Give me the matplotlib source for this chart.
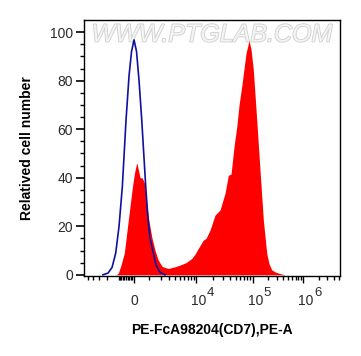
import numpy as np
import matplotlib
matplotlib.use("Agg")
import matplotlib.pyplot as plt
import matplotlib.patheffects as pe
from matplotlib.transforms import ScaledTranslation

plt.rcParams['font.family'] = ['Liberation Sans', 'DejaVu Sans']

# ---- data (fluorescence intensity, relative cell number) ----
blue_x = [-2492, -1927, -1541, -1227, -974, -740, -495, -306, -152, 0,
          152, 306, 476, 740, 900, 1048, 1311, 1541, 1927, 2492]
blue_y = [0, 0.7, 3, 9, 20, 36.3, 63.8, 82, 92, 96.8,
          92, 80, 63.8, 36.3, 23, 15, 9, 4, 1, 0]

red_x = [-1201, -1025, -831, -606, -349, -103, 30, 164, 275, 368, 495, 645,
         809, 974, 1180, 1453, 1754, 2134, 2492, 2917, 3972, 4969, 6474,
         8293, 9571, 10981, 13474, 15035, 17680, 21680, 26570, 32530, 37190,
         41520, 46860, 52330, 57420, 64040, 70290, 76180, 86100, 93330,
         102800, 120000, 139400, 162000, 189200, 210200, 237500, 288900,
         346500, 435000]
red_y = [0, 0.7, 4, 9, 22.6, 36, 42, 46.2, 43, 40, 40, 38,
         29, 22, 15.6, 10, 6, 3.5, 3, 2.6, 3.3, 4, 5,
         6.7, 8.5, 10.9, 14.3, 15, 18.4, 24.6, 26.7, 33.6, 41,
         41.5, 52.8, 61, 70, 77.6, 85, 91.3, 96.5, 93,
         84.4, 63.8, 43, 22.6, 8.8, 4.5, 2, 1,
         0.5, 0]

x_major = [0, 1e4, 1e5, 1e6]
x_major_labels = ['0', '10', '10', '10']
x_exponents = ['', '4', '5', '6']
y_major = [0, 20, 40, 60, 80, 100]

# ---- biexponential-like axis transform ----
C = 1420.0
U_K = np.array([-5.0, 0.0, 2.650, 4.948, 7.250, 12.0])
P_K = np.array([17.0, 134.0, 196.0, 252.7, 303.3, 407.7])


def fwd(x):
    x = np.asarray(x, dtype=float)
    return np.interp(np.arcsinh(x / C), U_K, P_K)


def inv(p):
    p = np.asarray(p, dtype=float)
    return C * np.sinh(np.interp(p, P_K, U_K))


fig = plt.figure(figsize=(3.61, 3.56), dpi=100)
ax = fig.add_axes([84 / 361, 1 - 276 / 356, 256 / 361, 256 / 356])
ax.set_xscale('function', functions=(fwd, inv))

ax.fill_between(red_x, red_y, 0, color='#ff0000', linewidth=0, zorder=2)
ax.plot(blue_x, blue_y, color='#1010a0', linewidth=1.2, zorder=3)

ax.set_xlim(-5940, 5.3e6)
ax.set_ylim(-0.5, 105)

minor = ([-k * 100 for k in range(1, 10)] + [-k * 1000 for k in range(1, 6)] +
         [k * 1000 for k in range(1, 10)] + [k * 1e4 for k in range(2, 10)] +
         [k * 1e5 for k in range(2, 10)] + [k * 1e6 for k in range(2, 6)])
ax.set_xticks(x_major, x_major_labels)
ax.set_xticks(minor, minor=True)
ax.set_yticks(y_major)
ax.set_yticks(np.arange(0, 105, 5), minor=True)

tick_col = '#2a2a2a'
ax.tick_params(axis='x', which='major', length=5, width=1, pad=8,
               labelsize=10, labelcolor=tick_col)
ax.tick_params(axis='x', which='minor', length=3, width=1)
ax.tick_params(axis='y', which='major', length=6, width=1.2, pad=2,
               labelsize=10, labelcolor=tick_col)
ax.tick_params(axis='y', which='minor', length=3, width=1)
for s in ax.spines.values():
    s.set_linewidth(1.0)

# shift "10" labels slightly right and add full-size raised exponents
shift = ScaledTranslation(2.5 / 100, 0, fig.dpi_scale_trans)
for lab, tx, ex in zip(ax.get_xticklabels(), x_major, x_exponents):
    if ex:
        lab.set_transform(lab.get_transform() + shift)
        ax.annotate(ex, xy=(tx, 0), xycoords=('data', 'axes fraction'),
                    xytext=(11, -20.5), textcoords='offset pixels',
                    ha='left', va='baseline', fontsize=9.5, color=tick_col,
                    annotation_clip=False)

ax.set_ylabel('Relatived cell number', fontsize=10, fontweight='bold', labelpad=11)
ax.set_xlabel('PE-FcA98204(CD7),PE-A', fontsize=10, fontweight='bold', labelpad=11)

ax.text(0.5, 0.99, 'WWW.PTGLAB.COM', transform=ax.transAxes, ha='center', va='top',
        fontsize=18, color='#f4f4f4', style='italic', zorder=1,
        path_effects=[pe.withStroke(linewidth=1.2, foreground='#cfcfcf')])

fig.savefig('out.png', dpi=100)
